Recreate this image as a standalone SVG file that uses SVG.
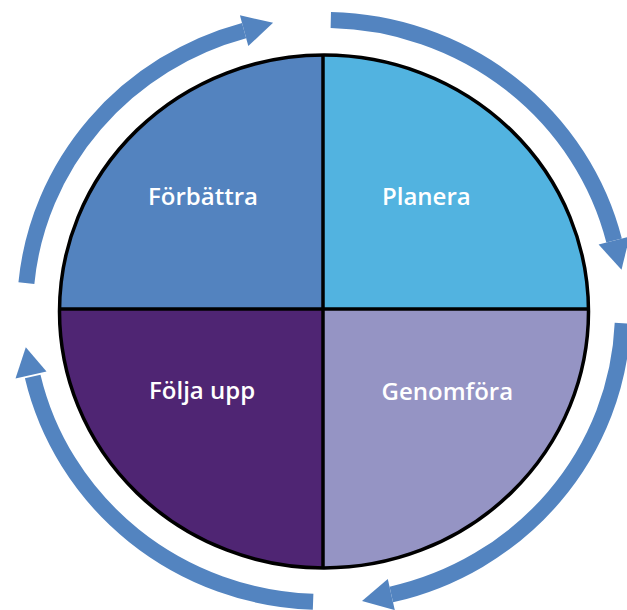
<svg xmlns="http://www.w3.org/2000/svg" width="627" height="610" viewBox="0 0 627 610">
<style>
.q{stroke:none}
.lbl{font-family:"Open Sans","Noto Sans","Liberation Sans",sans-serif;font-size:24px;font-weight:600;fill:#ffffff}
.band{fill:none;stroke:#5384C0;stroke-width:16;stroke-linecap:butt}
.head{fill:#5384C0;stroke:none}
.div{stroke:#000;stroke-width:3.5}
</style>
<defs>
<clipPath id="c"><ellipse cx="324" cy="311.5" rx="264.5" ry="256.5"/></clipPath>
</defs>
<g id="quadrants" clip-path="url(#c)">
<g id="forbattra"><rect class="q" x="50" y="40" width="273" height="269" fill="#5383BF"/></g>
<g id="planera"><rect class="q" x="323" y="40" width="280" height="269" fill="#52B3E0"/></g>
<g id="foljaupp"><rect class="q" x="50" y="309" width="273" height="270" fill="#4F2573"/></g>
<g id="genomfora"><rect class="q" x="323" y="309" width="280" height="270" fill="#9594C4"/></g>
</g>
<g id="outline">
<line class="div" x1="323" y1="55" x2="323" y2="568"/>
<line class="div" x1="60" y1="309" x2="589" y2="309"/>
<ellipse cx="324" cy="311.5" rx="264.5" ry="256.5" fill="none" stroke="#000" stroke-width="3.5"/>
</g>
<g id="labels">
<text class="lbl" x="148" y="205">Förbättra</text>
<text class="lbl" x="382" y="204.5">Planera</text>
<text class="lbl" x="149" y="398.5">Följa upp</text>
<text class="lbl" x="381.5" y="399.5">Genomföra</text>
</g>
<g id="connectors">
<path class="band" d="M26.4 283.1 A299 291 0 0 1 244.1 30.6"/>
<polygon class="head" points="239.9,15.2 273.1,22.8 248.3,46.0"/>
<path class="band" d="M330.8 20.1 A299 291 0 0 1 614.1 240.6"/>
<polygon class="head" points="629.6,236.6 621.5,269.7 598.6,244.6"/>
<path class="band" d="M622.7 323.2 A299 291 0 0 1 391.3 594.5"/>
<polygon class="head" points="394.8,610.1 362.0,601.1 387.8,578.9"/>
<path class="band" d="M313.1 601.8 A299 291 0 0 1 32.7 376.5"/>
<polygon class="head" points="15.5,378.5 25.8,347.3 46.5,371.5"/>
</g>
</svg>
